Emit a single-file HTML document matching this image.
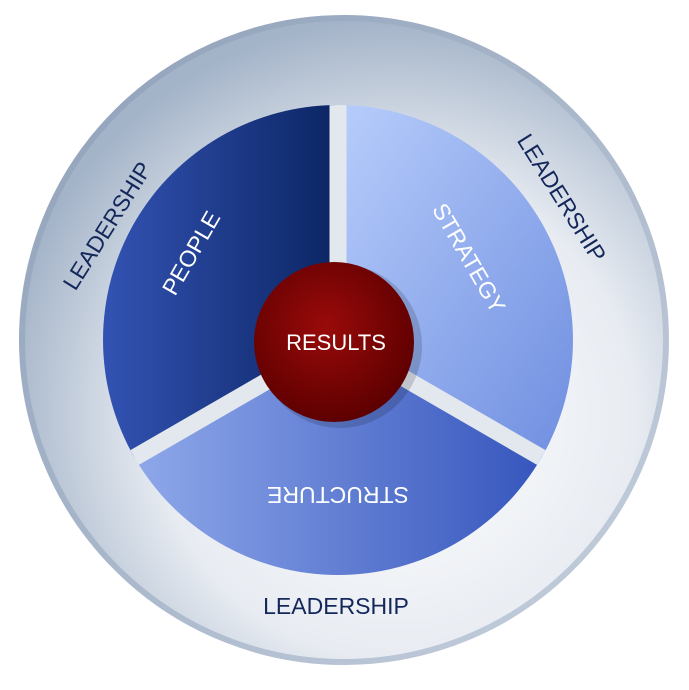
<!DOCTYPE html>
<html><head><meta charset="utf-8"><style>
html,body{margin:0;padding:0;background:#fff;}
svg{display:block}
text{font-family:"Liberation Sans",sans-serif;}
</style></head><body>
<svg width="689" height="690" viewBox="0 0 689 690" xmlns="http://www.w3.org/2000/svg">
<defs>
<radialGradient id="ring" cx="0.58" cy="0.62" r="0.62">
<stop offset="0" stop-color="#ffffff"/>
<stop offset="0.6" stop-color="#e8ecf2"/>
<stop offset="1" stop-color="#a3b3c8"/>
</radialGradient>
<linearGradient id="rim" x1="0" y1="0" x2="1" y2="1">
<stop offset="0" stop-color="#8d9fb8"/>
<stop offset="1" stop-color="#c6d0de"/>
</linearGradient>
<linearGradient id="people" x1="0" y1="0" x2="1" y2="0">
<stop offset="0" stop-color="#3353b4"/>
<stop offset="1" stop-color="#0b2563"/>
</linearGradient>
<linearGradient id="strat" x1="0" y1="0" x2="1" y2="1">
<stop offset="0" stop-color="#b7cdfb"/>
<stop offset="1" stop-color="#6f8ee0"/>
</linearGradient>
<linearGradient id="struct" x1="0" y1="0" x2="1" y2="0">
<stop offset="0" stop-color="#8fa8ea"/>
<stop offset="1" stop-color="#3656bd"/>
</linearGradient>
<radialGradient id="res" cx="0.45" cy="0.4" r="0.6">
<stop offset="0" stop-color="#9a0a0a"/>
<stop offset="1" stop-color="#5e0000"/>
</radialGradient>
<clipPath id="disc"><circle cx="338" cy="340" r="235"/></clipPath>
</defs>
<circle cx="344" cy="340" r="322" fill="url(#ring)" stroke="url(#rim)" stroke-width="6"/>
<path d="M338 340 L134.5 457.5 A235 235 0 0 1 338 105 Z" fill="url(#people)"/>
<path d="M338 340 L338 105 A235 235 0 0 1 541.5 457.5 Z" fill="url(#strat)"/>
<path d="M338 340 L541.5 457.5 A235 235 0 0 1 134.5 457.5 Z" fill="url(#struct)"/>
<g stroke="#e3e8ef" stroke-width="17" clip-path="url(#disc)">
<line x1="338" y1="340" x2="338" y2="90"/>
<line x1="338" y1="340" x2="120" y2="466"/>
<line x1="338" y1="340" x2="556" y2="466"/>
</g>
<circle cx="340" cy="346" r="82" fill="#000" opacity="0.15"/>
<circle cx="334" cy="342" r="80" fill="url(#res)"/>
<text x="336" y="350" font-size="22" fill="#fff" text-anchor="middle">RESULTS</text>
<text transform="translate(198,257) rotate(-60)" font-size="23" fill="#fff" text-anchor="middle">PEOPLE</text>
<text transform="translate(462,262) rotate(60)" font-size="23" fill="#fff" text-anchor="middle">STRATEGY</text>
<text transform="translate(338,487) rotate(180)" font-size="23" fill="#fff" text-anchor="middle">STRUCTURE</text>
<text transform="translate(114,230) rotate(-58)" font-size="23" fill="#14275a" text-anchor="middle">LEADERSHIP</text>
<text transform="translate(555,202) rotate(58)" font-size="23" fill="#14275a" text-anchor="middle">LEADERSHIP</text>
<text x="336" y="614" font-size="23" fill="#14275a" text-anchor="middle">LEADERSHIP</text>
</svg>
</body></html>
